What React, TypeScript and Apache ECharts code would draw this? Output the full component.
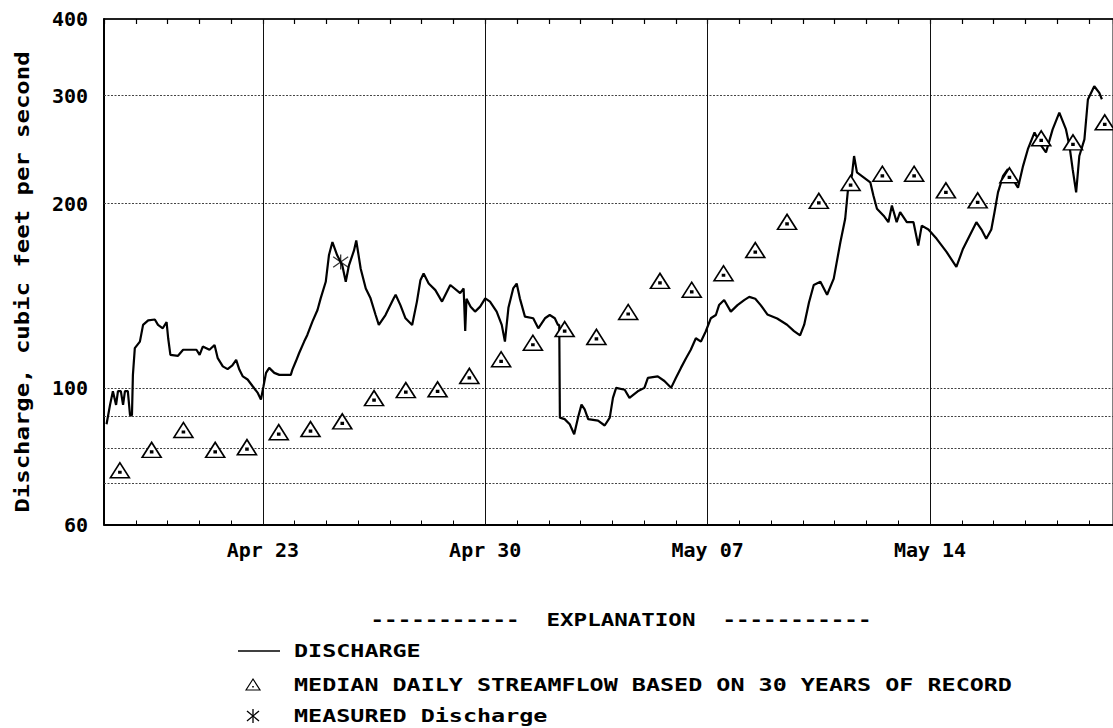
import React, { useEffect, useRef } from "react";
import * as echarts from "echarts";

// Day offsets are measured in days since Apr 18, 00:00.
const dischargeDay = [
  0.08, 0.19, 0.28, 0.38, 0.44, 0.53, 0.6, 0.66, 0.75, 0.82, 0.88, 0.91, 0.97, 1.13, 1.23, 1.39, 1.6, 1.7, 1.85, 1.97,
  2.02, 2.09, 2.33, 2.49, 2.91, 3.01, 3.11, 3.32, 3.48, 3.58, 3.74, 3.89, 4.04, 4.16, 4.26, 4.37, 4.52, 4.68, 4.84, 4.94,
  5.02, 5.1, 5.2, 5.36, 5.52, 5.88, 5.93, 6.04, 6.14, 6.3, 6.4, 6.56, 6.72, 6.82, 6.98, 7.08, 7.19, 7.34, 7.5, 7.61,
  7.71, 7.87, 7.94, 8.08, 8.24, 8.39, 8.55, 8.65, 8.86, 9.12, 9.18, 9.33, 9.49, 9.7, 9.85, 9.96, 10.06, 10.22, 10.43, 10.64,
  10.9, 11.21, 11.32, 11.37, 11.41, 11.54, 11.68, 11.84, 12.0, 12.15, 12.36, 12.52, 12.62, 12.73, 12.88, 12.99, 13.09, 13.25, 13.51, 13.67,
  13.88, 14.03, 14.19, 14.29, 14.33, 14.35, 14.5, 14.66, 14.8, 14.92, 15.03, 15.13, 15.24, 15.55, 15.76, 15.92, 16.02, 16.12, 16.39, 16.54,
  16.8, 17.01, 17.12, 17.43, 17.64, 17.85, 18.0, 18.16, 18.32, 18.47, 18.63, 18.79, 18.94, 19.1, 19.26, 19.36, 19.52, 19.73, 19.94, 20.15,
  20.31, 20.5, 20.67, 20.88, 21.19, 21.5, 21.72, 21.91, 22.04, 22.19, 22.34, 22.55, 22.76, 22.97, 23.18, 23.33, 23.44, 23.54, 23.61, 23.7,
  23.91, 24.12, 24.22, 24.33, 24.54, 24.69, 24.8, 24.95, 25.06, 25.27, 25.48, 25.63, 25.74, 25.95, 26.21, 26.52, 26.83, 27.04, 27.25, 27.46,
  27.62, 27.77, 27.93, 28.03, 28.14, 28.3, 28.45, 28.61, 28.77, 28.93, 29.08, 29.29, 29.5, 29.65, 29.86, 30.07, 30.28, 30.39, 30.49, 30.6,
  30.7, 30.86, 30.97, 31.17, 31.33, 31.41,
];
const dischargeCfs = [
  87.4, 94, 98.9, 94, 99, 99, 94, 99, 99, 90.4, 90.4, 105.2, 116.3, 119.2, 126.9, 129.1, 129.5, 126.9, 125.3, 128.3,
  120.7, 113.4, 113, 115.6, 115.6, 113.4, 117, 115.6, 117.7, 112, 108.6, 107.5, 109, 111.3, 107.3, 104.6, 103.4, 100.8, 98.3, 95.9,
  100.8, 106, 108, 106, 105.2, 105.2, 107.3, 110.7, 114.1, 119.2, 122.2, 128.5, 134.2, 140.2, 149.2, 164.8, 173.2, 164.8, 158.7, 149.2,
  158.7, 167.8, 174.2, 156.7, 145.5, 140.2, 131.7, 126.9, 131.7, 140.2, 142.1, 136.7, 130.1, 126.9, 138.5, 150.1, 153.9, 148.2, 144.6, 138.5,
  147.4, 143, 145.5, 124, 140, 135.9, 133.4, 135.9, 140.2, 138.5, 133.4, 126.9, 119.2, 135.3, 145.5, 148.2, 140.2, 130.9, 130.1, 125.3,
  130.1, 131.7, 130.1, 126.9, 126.9, 89.6, 89.1, 87.4, 84.2, 89.6, 94.1, 92.4, 89.1, 88.6, 87, 89.6, 96.5, 100.2, 99.5, 96.5,
  98.9, 100.2, 104, 104.6, 102.8, 100.2, 104, 108, 112, 115.6, 120.7, 119.2, 123.8, 130.1, 131.7, 136.7, 139.3, 133.4, 136.7, 139.3,
  141, 140, 136.7, 132, 130, 127, 124, 122, 127, 138, 147.4, 149.2, 142.1, 151, 173.2, 189, 216.7, 222, 239.2, 224.9,
  220.8, 216.7, 206, 196.2, 191.2, 186.6, 198.6, 186.6, 193.7, 186.6, 186.6, 171, 184.2, 181.5, 175.3, 166.9, 157.8, 168.9, 177.5, 186.6,
  181.5, 175.3, 181.5, 193.7, 208.7, 222, 227.7, 218.9, 212.4, 230.5, 245.4, 261.3, 248.6, 242.4, 264.3, 281.4, 264.3, 248.4, 227.7, 208.7,
  239.2, 254.6, 295.7, 310.8, 303.2, 296,
];

// Median daily values, plotted at noon of each day (Apr 18 .. May 19)
const medianDay = [
  0.5, 1.5, 2.5, 3.5, 4.5, 5.5, 6.5, 7.5, 8.5, 9.5, 10.5, 11.5, 12.5, 13.5, 14.5, 15.5,
  16.5, 17.5, 18.5, 19.5, 20.5, 21.5, 22.5, 23.5, 24.5, 25.5, 26.5, 27.5, 28.5, 29.5, 30.5, 31.5,
];
const medianCfs = [
  73.0, 78.8, 84.9, 78.8, 79.6, 84.2, 85.2, 87.7, 95.7, 98.6, 98.9, 104.0, 110.7, 117.8, 124.0, 120.4,
  132.2, 148.6, 143.7, 152.9, 166.8, 185.4, 200.6, 214.5, 222.1, 222.1, 208.7, 201.0, 220.8, 253.7, 249.9, 269.4,
];

const measuredDay = [7.45];
const measuredCfs = [160.7];

const weekDay = [5, 12, 19, 26];
const weekLabel = ["Apr 23", "Apr 30", "May 07", "May 14"];
const yLabelValues = [60, 100, 200, 300, 400];
const yGridValues = [70, 80, 90, 100, 200, 300];

const legendHeader = "-----------  EXPLANATION  -----------";
const legendNames = [
  "DISCHARGE",
  "MEDIAN DAILY STREAMFLOW BASED ON 30 YEARS OF RECORD",
  "MEASURED Discharge",
];
const yTitle = "Discharge, cubic feet per second";

const FONT = "'DejaVu Sans Mono', monospace";
const TRIANGLE = "path://M0,15 L9.5,0 L19,15 Z M8.6,8.6 L10.4,8.6 L10.4,10.4 L8.6,10.4 Z";
const ASTERISK = "path://M5,0 L5,10 M1.5,1.5 L8.5,8.5 M1.5,8.5 L8.5,1.5";

export default function App() {
  const ref = useRef<HTMLDivElement>(null);

  useEffect(() => {
    if (!ref.current) return;
    const chart = echarts.init(ref.current, undefined, { renderer: "svg" });

    const xMax = 31.76;
    const legendX = 253;
    const textX = 294;
    const rowY = [651, 685, 716];
    const legendText = (text: string, y: number) => ({
      type: "text",
      x: textX,
      y,
      scaleX: 1.3,
      style: {
        text,
        fontFamily: FONT,
        fontWeight: "bold",
        fontSize: 18,
        fill: "#000",
        textAlign: "left",
        textVerticalAlign: "middle",
      },
    });

    const option: any = {
      animation: false,
      backgroundColor: "#ffffff",
      grid: {
        left: 104,
        top: 19,
        right: -4,
        height: 505.5,
        show: true,
        borderColor: "#000",
        borderWidth: 1,
      },
      xAxis: [
        {
          type: "value",
          min: 0,
          max: xMax,
          interval: 1,
          position: "bottom",
          axisLine: { show: true, onZero: false, lineStyle: { color: "#000", width: 2 } },
          axisTick: { show: true, inside: true, length: 4, lineStyle: { color: "#000", width: 1 } },
          axisLabel: {
            show: true,
            margin: 15,
            interval: 0,
            showMinLabel: false,
            showMaxLabel: false,
            fontFamily: FONT,
            fontWeight: "bold",
            fontSize: 20,
            color: "#000",
            formatter: (v: number) => {
              for (let i = 0; i < weekDay.length; i++) {
                if (Math.abs(v - weekDay[i]) < 1e-6) return weekLabel[i];
              }
              return "";
            },
          },
          splitLine: { show: false },
        },
        {
          type: "value",
          min: 0,
          max: xMax,
          interval: 1,
          position: "top",
          axisLine: { show: true, onZero: false, lineStyle: { color: "#000", width: 1.5 } },
          axisTick: { show: true, inside: true, length: 5, lineStyle: { color: "#000", width: 1.2 } },
          axisLabel: { show: false },
          splitLine: { show: false },
        },
      ],
      yAxis: {
        type: "log",
        logBase: 10,
        min: 60,
        max: 400,
        axisLine: { show: true, onZero: false, lineStyle: { color: "#000", width: 2 } },
        axisTick: { show: false },
        axisLabel: {
          customValues: yLabelValues,
          formatter: (v: number) => String(Math.round(v)),
          margin: 16,
          fontFamily: FONT,
          fontWeight: "bold",
          fontSize: 20,
          color: "#000",
        },
        splitLine: { show: false },
      },
      series: [
        {
          type: "line",
          name: "gridlines",
          data: [],
          silent: true,
          markLine: {
            silent: true,
            symbol: "none",
            z: 1,
            animation: false,
            label: { show: false },
            data: [
              ...yGridValues.map((v) => ({
                yAxis: v,
                lineStyle: { color: "#444", type: [2, 1.5], width: 1 },
              })),
              ...weekDay.map((d) => ({
                xAxis: d,
                lineStyle: { color: "#111", type: "solid", width: 1 },
              })),
            ],
          },
        },
        {
          type: "line",
          name: legendNames[0],
          data: dischargeDay.map((d, i) => [d, dischargeCfs[i]]),
          showSymbol: false,
          symbol: "none",
          lineStyle: { color: "#000", width: 2.2 },
          z: 3,
        },
        {
          type: "scatter",
          name: legendNames[1],
          data: medianDay.map((d, i) => [d, medianCfs[i]]),
          symbol: TRIANGLE,
          symbolSize: [19, 15],
          symbolOffset: [0, -2],
          itemStyle: { color: "#fff", borderColor: "#000", borderWidth: 1.6, opacity: 1 },
          z: 4,
        },
        {
          type: "scatter",
          name: legendNames[2],
          data: measuredDay.map((d, i) => [d, measuredCfs[i]]),
          symbol: ASTERISK,
          symbolSize: 15,
          itemStyle: { color: "rgba(0,0,0,0)", borderColor: "#000", borderWidth: 1.3 },
          z: 5,
        },
      ],
      graphic: [
        {
          type: "text",
          x: 22,
          y: 282,
          rotation: Math.PI / 2,
          scaleX: 1.26,
          style: {
            text: yTitle,
            fontFamily: FONT,
            fontWeight: "bold",
            fontSize: 19,
            fill: "#000",
            textAlign: "center",
            textVerticalAlign: "middle",
          },
        },
        {
          type: "text",
          x: 621,
          y: 620,
          scaleX: 1.25,
          style: {
            text: legendHeader,
            fontFamily: FONT,
            fontWeight: "bold",
            fontSize: 18,
            fill: "#000",
            textAlign: "center",
            textVerticalAlign: "middle",
          },
        },
        {
          type: "line",
          shape: { x1: 238, y1: rowY[0], x2: 280, y2: rowY[0] },
          style: { stroke: "#000", lineWidth: 1.3 },
        },
        legendText(legendNames[0], rowY[0]),
        {
          type: "polygon",
          shape: { points: [[legendX - 7, rowY[1] + 5], [legendX, rowY[1] - 6], [legendX + 7, rowY[1] + 5]] },
          style: { fill: "#fff", stroke: "#000", lineWidth: 1.2 },
        },
        {
          type: "rect",
          shape: { x: legendX - 0.8, y: rowY[1] + 1, width: 1.6, height: 1.6 },
          style: { fill: "#000" },
        },
        legendText(legendNames[1], rowY[1]),
        {
          type: "line",
          shape: { x1: legendX, y1: rowY[2] - 7, x2: legendX, y2: rowY[2] + 7 },
          style: { stroke: "#000", lineWidth: 1.3 },
        },
        {
          type: "line",
          shape: { x1: legendX - 6, y1: rowY[2] - 5, x2: legendX + 6, y2: rowY[2] + 5 },
          style: { stroke: "#000", lineWidth: 1.3 },
        },
        {
          type: "line",
          shape: { x1: legendX - 6, y1: rowY[2] + 5, x2: legendX + 6, y2: rowY[2] - 5 },
          style: { stroke: "#000", lineWidth: 1.3 },
        },
        legendText(legendNames[2], rowY[2]),
      ],
    };

    chart.setOption(option);
    return () => {
      chart.dispose();
    };
  }, []);

  return (
    <div
      ref={ref}
      style={{ position: "absolute", left: 0, top: 0, width: 1113, height: 728, background: "#fff" }}
    />
  );
}
